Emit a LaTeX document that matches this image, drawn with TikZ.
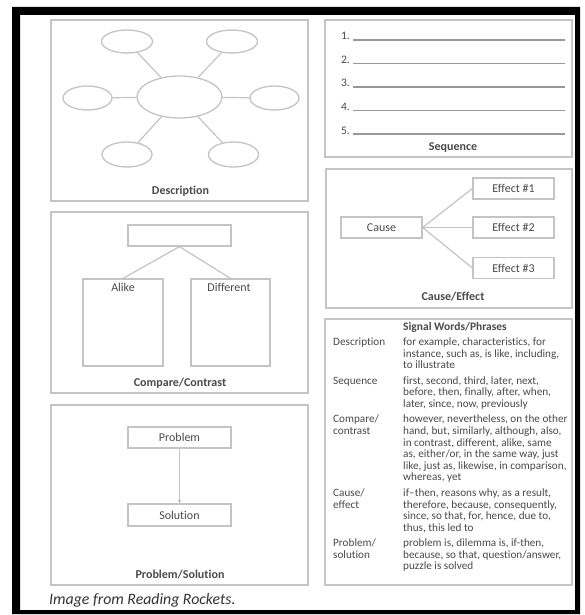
\documentclass[tikz,border=0pt]{standalone}
\usepackage{fontspec}
\setmainfont{Carlito}[Ligatures=NoCommon]
\usetikzlibrary{arrows.meta,shapes.geometric}
\definecolor{bord}{HTML}{C4C4C4}
\definecolor{txt}{HTML}{4A4A4A}
\definecolor{seqln}{HTML}{989898}
\begin{document}
\begin{tikzpicture}[x=1pt,y=-1pt,
  panel/.style={draw=bord, line width=1.3pt},
  ell/.style={draw=bord, line width=1.3pt, ellipse, inner sep=0pt},
  box/.style={draw=bord, line width=1.2pt, inner sep=0pt, text=txt, font=\fontsize{12}{14}\selectfont},
  conn/.style={draw=bord, line width=1.2pt},
  ptitle/.style={text=txt, font=\bfseries\fontsize{12}{14}\selectfont, inner sep=0pt},
  tw/.style={text=txt, font=\fontsize{11.2}{13}\selectfont, inner sep=0pt, anchor=base west},
  num/.style={text=txt, font=\fontsize{11.5}{13}\selectfont, inner sep=0pt, anchor=base east},
  seqline/.style={draw=seqln, line width=1.4pt}
]
\useasboundingbox (0,0) rectangle (584,615);
\fill[white] (0,0) rectangle (584,615);

% ---------- panels ----------
\draw[panel] (51,20) rectangle (308,201);
\draw[panel] (51,212) rectangle (308,393);
\draw[panel] (51,405) rectangle (308,585);
\draw[panel] (325,20) rectangle (572,157);
\draw[panel] (326,169) rectangle (572,308);
\draw[panel] (325,319) rectangle (572,585);

% ---------- Description ----------
\node[ell, minimum width=85pt, minimum height=42pt] (dc) at (179.5,97) {};
\node[ell, minimum width=51pt, minimum height=23pt] (dtl) at (127,41.5) {};
\node[ell, minimum width=51pt, minimum height=23pt] (dtr) at (232,41.5) {};
\node[ell, minimum width=49pt, minimum height=24pt] (dl) at (87.5,98) {};
\node[ell, minimum width=49pt, minimum height=24pt] (dr) at (274.5,98) {};
\node[ell, minimum width=50pt, minimum height=25pt] (dbl) at (127,154.5) {};
\node[ell, minimum width=50pt, minimum height=25pt] (dbr) at (233.5,154.5) {};
\foreach \n in {dtl,dtr,dl,dr,dbl,dbr} \draw[conn] (\n) -- (dc);
\node[ptitle] (tdesc) at (180.5,191) {Description};

% ---------- Compare/Contrast ----------
\node[box, minimum width=103pt, minimum height=21pt] (ctop) at (179.5,235.5) {};
\node[box, minimum width=80pt, minimum height=87pt] (alike) at (123,322.5) {};
\node[box, minimum width=79pt, minimum height=87pt] (diff) at (230.5,322.5) {};
\draw[conn] (ctop.south) -- (alike.north);
\draw[conn] (ctop.south) -- (diff.north);
\node[text=txt, font=\fontsize{12}{14}\selectfont, inner sep=0pt, anchor=base] (talike) at (123,291) {Alike};
\node[text=txt, font=\fontsize{12}{14}\selectfont, inner sep=0pt, anchor=base] (tdiff) at (229,291) {Different};
\node[ptitle] (tcomp) at (180,383) {Compare/Contrast};

% ---------- Problem/Solution ----------
\node[box, minimum width=103pt, minimum height=21pt] (prob) at (179.5,437.5) {Problem};
\node[box, minimum width=103pt, minimum height=22pt] (sol) at (179.5,515) {Solution};
\draw[conn, -{Stealth[length=4pt,width=4pt]}] (prob.south) -- (sol.north);
\node[ptitle] (tprob) at (180,575) {Problem/Solution};

% ---------- Sequence ----------
\foreach \i/\yy in {1/40,2/63.5,3/87,4/110.5,5/134}{
  \node[num] (n\i) at (350,\yy) {\i.};
  \coordinate (sa\i) at (353,\yy);
  \coordinate (sb\i) at (565,\yy);
  \draw[seqline] (sa\i) -- (sb\i);
}
\node[ptitle] (tseq) at (453,148) {Sequence};

% ---------- Cause/Effect ----------
\node[box, minimum width=81pt, minimum height=21pt] (cause) at (381.5,227.5) {Cause};
\node[box, minimum width=81pt, minimum height=21pt] (e1) at (513.5,188.5) {Effect \#1};
\node[box, minimum width=81pt, minimum height=21pt] (e2) at (513.5,227.5) {Effect \#2};
\node[box, minimum width=81pt, minimum height=21pt] (e3) at (513.5,268) {Effect \#3};
\draw[conn] (cause.east) -- (e1.west);
\draw[conn] (cause.east) -- (e2.west);
\draw[conn] (cause.east) -- (e3.west);
\node[ptitle] (tce) at (453,297) {Cause/Effect};

% ---------- Signal words ----------
\node[ptitle, font=\bfseries\fontsize{11.5}{13}\selectfont] (tsig) at (455,327) {Signal Words/Phrases};
\node[tw] (l1) at (333,345.5) {Description};
\node[tw] (r1) at (403,345.5) {for example, characteristics, for};
\node[tw] (r2) at (403,357.1) {instance, such as, is like, including,};
\node[tw] (r3) at (403,368.7) {to illustrate};
\node[tw] (l2) at (333,384.2) {Sequence};
\node[tw] (r4) at (403,384.2) {first, second, third, later, next,};
\node[tw] (r5) at (403,395.8) {before, then, finally, after, when,};
\node[tw] (r6) at (403,407.4) {later, since, now, previously};
\node[tw] (l3) at (333,422.9) {Compare/};
\node[tw] (l4) at (333,434.5) {contrast};
\node[tw] (r7) at (403,422.9) {however, nevertheless, on the other};
\node[tw] (r8) at (403,434.5) {hand, but, similarly, although, also,};
\node[tw] (r9) at (403,446.1) {in contrast, different, alike, same};
\node[tw] (r10) at (403,457.7) {as, either/or, in the same way, just};
\node[tw] (r11) at (403,469.3) {like, just as, likewise, in comparison,};
\node[tw] (r12) at (403,480.9) {whereas, yet};
\node[tw] (l5) at (333,496.4) {Cause/};
\node[tw] (l6) at (333,508) {effect};
\node[tw] (r13) at (403,496.4) {if–then, reasons why, as a result,};
\node[tw] (r14) at (403,508) {therefore, because, consequently,};
\node[tw] (r15) at (403,519.6) {since, so that, for, hence, due to,};
\node[tw] (r16) at (403,531.2) {thus, this led to};
\node[tw] (l7) at (333,546.7) {Problem/};
\node[tw] (l8) at (333,558.3) {solution};
\node[tw] (r17) at (403,546.7) {problem is, dilemma is, if-then,};
\node[tw] (r18) at (403,558.3) {because, so that, question/answer,};
\node[tw] (r19) at (403,569.9) {puzzle is solved};

% ---------- caption ----------
\node[anchor=base west, inner sep=0pt, text=black!80, font=\itshape\fontsize{15.8}{18}\selectfont] (cap) at (49,604.5) {Image from Reading Rockets.};

% ---------- black frame ----------
\fill[black, even odd rule] (12,7) rectangle (580,614) (20,15) rectangle (575,610);
\end{tikzpicture}
\end{document}
